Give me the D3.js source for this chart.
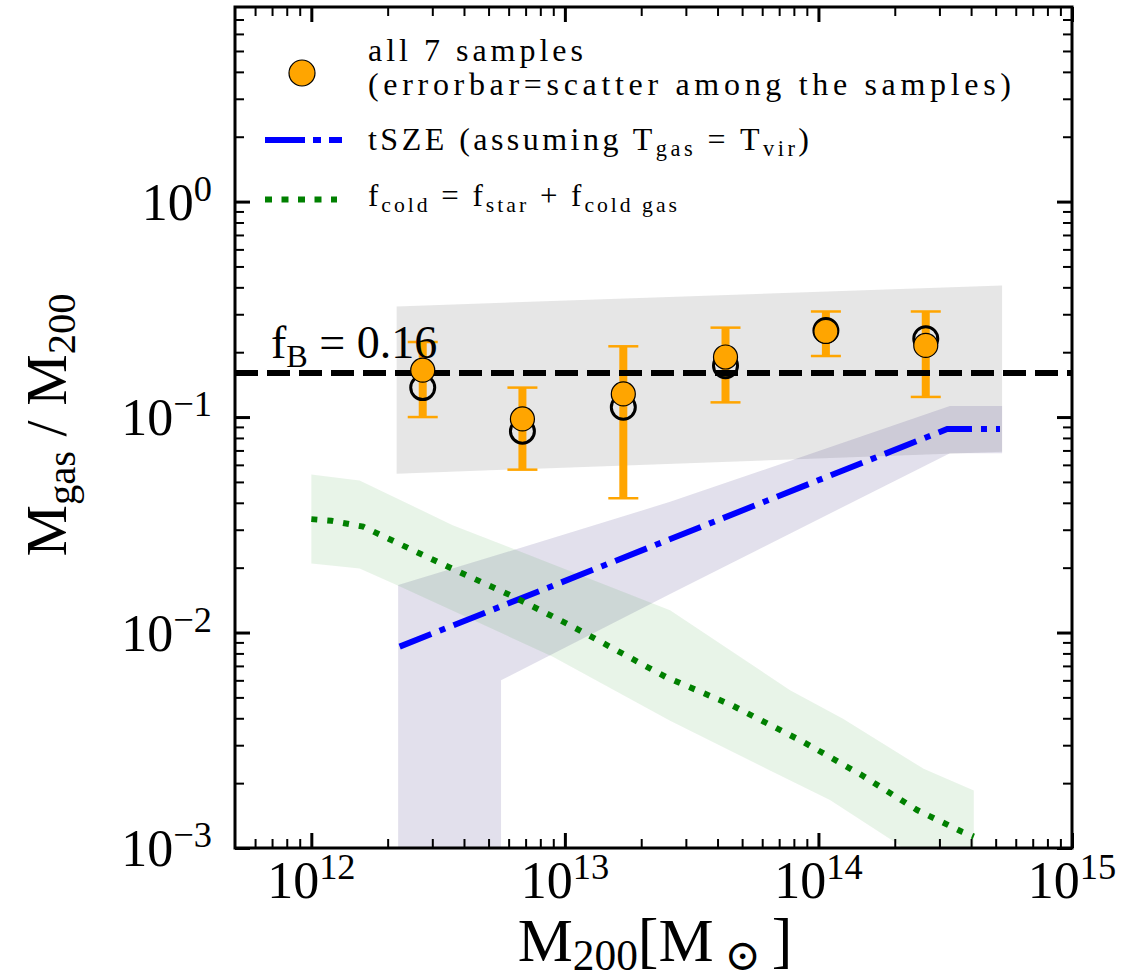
<!DOCTYPE html>
<html><head><meta charset="utf-8">
<script src="https://cdn.jsdelivr.net/npm/d3@7"></script>
<style>body{margin:0;background:#fff}</style>
</head><body>
<svg id="chart" width="1147" height="979"></svg>
<script>
// ---- data ----
const sampleMass   = [2.75e12, 6.8e12, 1.7e13, 4.3e13, 1.07e14, 2.65e14];
const fgasAll      = [0.165, 0.098, 0.128, 0.190, 0.250, 0.215];
const fgasErrLo    = [0.100, 0.057, 0.042, 0.117, 0.192, 0.124];
const fgasErrHi    = [0.223, 0.137, 0.213, 0.260, 0.309, 0.309];
const fgasOpen     = [0.137, 0.086, 0.111, 0.173, 0.252, 0.231];

const grayBandMass = [2.17e12, 5.3e14];
const grayBandLo   = [0.0546, 0.069];
const grayBandHi   = [0.326, 0.408];

const tszeMass     = [2.23e12, 3.22e14, 5.2e14];
const tszeFrac     = [0.0086, 0.088, 0.088];
const tszeBandMass = [2.2e12, 5.6e12, 5.6e12, 2.6e13, 3.3e14, 5.3e14];
const tszeBandLo   = [1e-4, 1e-4, 0.006, 0.0151, 0.068, 0.068];
const tszeBandHi   = [0.0166, 0.0232, 0.0232, 0.0404, 0.1125, 0.1125];

const coldMass     = [1.0e12, 1.2e12, 1.6e12, 2.37e12, 3.62e12, 6.17e12, 1.05e13, 2.5e13, 4.55e13, 8.7e13, 1.48e14, 2.45e14, 3.68e14, 4.1e14];
const coldFrac     = [0.0336, 0.033, 0.031, 0.0249, 0.0197, 0.0148, 0.0108, 0.00622, 0.0046, 0.00311, 0.00218, 0.0015, 0.00119, 0.00113];
const coldHiMass   = [1.0e12, 1.55e12, 3.61e12, 2.6e13, 7.73e13, 1.25e14, 2.6e14, 4.1e14];
const coldHi       = [0.0542, 0.0508, 0.0315, 0.0127, 0.0054, 0.00398, 0.00233, 0.00185];
const coldLoMass   = [1.0e12, 1.55e12, 2.17e12, 9.0e12, 2.6e13, 6.44e13, 1.11e14, 2.04e14, 4.1e14];
const coldLo       = [0.0209, 0.0198, 0.0166, 0.0077, 0.0039, 0.00229, 0.00167, 0.00105, 0.0005];

const fBaryon = 0.16;
const xMajorTicks = [1e12, 1e13, 1e14, 1e15];
const xTickExp    = ["12", "13", "14", "15"];
const yMajorTicks = [1e-3, 1e-2, 1e-1, 1e0];
const yTickExp    = ["\u22123", "\u22122", "\u22121", "0"];

// ---- layout ----
const L = 235, R = 1072, T = 7, B = 848;
const svg = d3.select("#chart");
const x = d3.scaleLog().domain([5e11, 1e15]).range([L, R]);
const y = d3.scaleLog().domain([1e-3, 8]).range([B, T]);

svg.append("defs").append("clipPath").attr("id", "clip")
  .append("rect").attr("x", L).attr("y", T).attr("width", R - L).attr("height", B - T);
const plot = svg.append("g").attr("clip-path", "url(#clip)");

// bands
const band = d3.area().x(d => x(d[0])).y0(d => y(d[1])).y1(d => y(d[2]));
plot.append("path")
  .attr("d", band(grayBandMass.map((m, i) => [m, grayBandLo[i], grayBandHi[i]])))
  .attr("fill", "#808080").attr("fill-opacity", 0.2);
plot.append("path")
  .attr("d", band(tszeBandMass.map((m, i) => [m, tszeBandLo[i], tszeBandHi[i]])))
  .attr("fill", "#483d8b").attr("fill-opacity", 0.16);
const poly = d3.line().x(d => x(d[0])).y(d => y(d[1]));
const coldPoly = coldHiMass.map((m, i) => [m, coldHi[i]])
  .concat(coldLoMass.map((m, i) => [m, coldLo[i]]).reverse());
plot.append("path").attr("d", poly(coldPoly) + "Z")
  .attr("fill", "#008000").attr("fill-opacity", 0.09);

// lines
plot.append("path").attr("d", poly(tszeMass.map((m, i) => [m, tszeFrac[i]])))
  .attr("fill", "none").attr("stroke", "#0000ff").attr("stroke-width", 6)
  .attr("stroke-dasharray", "34,9,6,9");
plot.append("path").attr("d", poly(coldMass.map((m, i) => [m, coldFrac[i]])))
  .attr("fill", "none").attr("stroke", "#008000").attr("stroke-width", 6)
  .attr("stroke-dasharray", "6,10");

// error bars
const eb = plot.append("g").attr("stroke", "#FFA500");
sampleMass.forEach((m, i) => {
  eb.append("line").attr("x1", x(m)).attr("x2", x(m))
    .attr("y1", y(fgasErrLo[i])).attr("y2", y(fgasErrHi[i])).attr("stroke-width", 8);
  [fgasErrLo[i], fgasErrHi[i]].forEach(v => {
    eb.append("line").attr("x1", x(m) - 15).attr("x2", x(m) + 15)
      .attr("y1", y(v)).attr("y2", y(v)).attr("stroke-width", 2.5);
  });
});

// baryon fraction line
plot.append("line").attr("x1", L).attr("x2", R).attr("y1", y(fBaryon)).attr("y2", y(fBaryon))
  .attr("stroke", "#000").attr("stroke-width", 6).attr("stroke-dasharray", "23,9");

// text helper
function rich(sel, parts, size, subShift) {
  const sb = subShift === undefined ? 0.2 : subShift;
  let cur = 0;
  parts.forEach(p => {
    const target = p.sub ? size * sb : (p.sup ? -size * 0.36 : 0);
    const ts = sel.append("tspan").text(p.t).attr("dy", target - cur);
    if (p.sub || p.sup) ts.attr("font-size", size * 0.7);
    cur = target;
  });
}

const SERIF = "Liberation Serif, DejaVu Serif, serif";
const fbText = svg.append("text").attr("x", 271).attr("y", 358)
  .attr("font-family", SERIF).attr("font-size", 46).attr("fill", "#000");
rich(fbText, [{t: "f"}, {t: "B", sub: true}, {t: " = 0.16"}], 46);

// points
plot.selectAll("circle.open").data(sampleMass).enter().append("circle")
  .attr("cx", d => x(d)).attr("cy", (d, i) => y(fgasOpen[i])).attr("r", 12)
  .attr("fill", "none").attr("stroke", "#000").attr("stroke-width", 3);
plot.selectAll("circle.fill").data(sampleMass).enter().append("circle")
  .attr("cx", d => x(d)).attr("cy", (d, i) => y(fgasAll[i])).attr("r", 12)
  .attr("fill", "#FFA500").attr("stroke", "#000").attr("stroke-width", 1.2);

// ticks
function minorTicks(lo, hi, dlo, dhi) {
  const out = [];
  for (let d = dlo; d <= dhi; d++) for (let k = 2; k <= 9; k++) {
    const v = k * Math.pow(10, d);
    if (v > lo && v < hi) out.push(v);
  }
  return out;
}
const xMinor = minorTicks(5e11, 1e15, 11, 14);
const yMinor = minorTicks(1e-3, 8, -3, 0);
function styleAxis(g, w) {
  g.select(".domain").remove();
  g.selectAll(".tick text").remove();
  g.selectAll(".tick line").attr("stroke", "#000").attr("stroke-width", w);
}
[[d3.axisBottom, B, "x"], [d3.axisTop, T, "x"], [d3.axisLeft, L, "y"], [d3.axisRight, R, "y"]].forEach(([fn, pos, dim]) => {
  const sc = dim === "x" ? x : y;
  const tr = dim === "x" ? `translate(0,${pos})` : `translate(${pos},0)`;
  const maj = dim === "x" ? xMajorTicks : yMajorTicks;
  const mnr = dim === "x" ? xMinor : yMinor;
  svg.append("g").attr("transform", tr).call(fn(sc).tickValues(mnr).tickSize(-9).tickFormat(""))
    .call(g => styleAxis(g, 2));
  svg.append("g").attr("transform", tr).call(fn(sc).tickValues(maj).tickSize(-15).tickFormat(""))
    .call(g => styleAxis(g, 3));
});

// frame
svg.append("rect").attr("x", L).attr("y", T).attr("width", R - L).attr("height", B - T)
  .attr("fill", "none").attr("stroke", "#000").attr("stroke-width", 3);

// tick labels
const TS = 52;
xMajorTicks.forEach((v, i) => {
  const t = svg.append("text").attr("x", x(v)).attr("y", 898).attr("text-anchor", "middle")
    .attr("font-family", SERIF).attr("font-size", TS);
  rich(t, [{t: "10"}, {t: xTickExp[i], sup: true}], TS);
});
yMajorTicks.forEach((v, i) => {
  const t = svg.append("text").attr("x", 212).attr("y", y(v) + 18).attr("text-anchor", "end")
    .attr("font-family", SERIF).attr("font-size", TS);
  rich(t, [{t: "10"}, {t: yTickExp[i], sup: true}], TS);
});

// axis labels
const xl = svg.append("text").attr("x", 655).attr("y", 961).attr("text-anchor", "middle")
  .attr("font-family", SERIF).attr("font-size", 62);
rich(xl, [{t: "M"}, {t: "200", sub: true}, {t: "[M"}, {t: " \u2299 ", sub: true}, {t: "]"}], 62, 0.14);
const yl = svg.append("text").attr("transform", "translate(66,425) rotate(-90)").attr("text-anchor", "middle")
  .attr("font-family", SERIF).attr("font-size", 58);
rich(yl, [{t: "M"}, {t: "gas", sub: true}, {t: " / M"}, {t: "200", sub: true}], 58, 0.16);

// legend
const LS = 32;
const leg = svg.append("g").attr("font-family", SERIF);
leg.append("circle").attr("cx", 302).attr("cy", 73).attr("r", 13)
  .attr("fill", "#FFA500").attr("stroke", "#000").attr("stroke-width", 1.2);
leg.append("text").attr("x", 368).attr("y", 61).attr("font-size", LS)
  .attr("textLength", 215).attr("lengthAdjust", "spacing").text("all 7 samples");
leg.append("text").attr("x", 368).attr("y", 95).attr("font-size", LS)
  .attr("textLength", 643).attr("lengthAdjust", "spacing").text("(errorbar=scatter among the samples)");
leg.append("line").attr("x1", 265).attr("x2", 342).attr("y1", 140).attr("y2", 140)
  .attr("stroke", "#0000ff").attr("stroke-width", 6).attr("stroke-dasharray", "40,8,8,8");
const l2 = leg.append("text").attr("x", 368).attr("y", 150).attr("font-size", LS)
  .attr("textLength", 441).attr("lengthAdjust", "spacing");
rich(l2, [{t: "tSZE (assuming T"}, {t: "gas", sub: true}, {t: " = T"}, {t: "vir", sub: true}, {t: ")"}], LS);
leg.append("line").attr("x1", 265).attr("x2", 337).attr("y1", 199.5).attr("y2", 199.5)
  .attr("stroke", "#008000").attr("stroke-width", 6).attr("stroke-dasharray", "7,9.5");
const l3 = leg.append("text").attr("x", 368).attr("y", 206).attr("font-size", 31)
  .attr("textLength", 309).attr("lengthAdjust", "spacing");
rich(l3, [{t: "f"}, {t: "cold", sub: true}, {t: " = f"}, {t: "star", sub: true}, {t: " + f"}, {t: "cold gas", sub: true}], 31);
</script>
</body></html>
